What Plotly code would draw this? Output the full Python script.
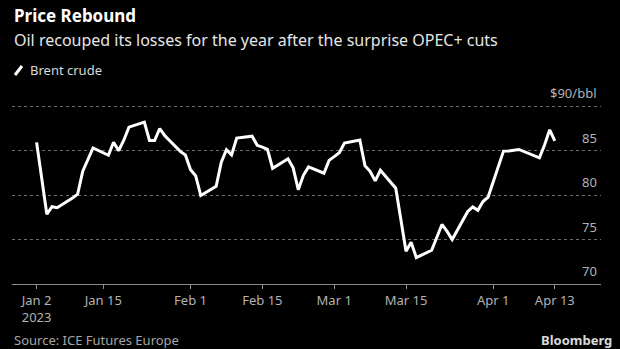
import plotly.graph_objects as go

dates = ["2023-01-02","2023-01-03","2023-01-04","2023-01-05","2023-01-06","2023-01-09","2023-01-10",
         "2023-01-11","2023-01-12","2023-01-13","2023-01-16","2023-01-17","2023-01-18","2023-01-19",
         "2023-01-20","2023-01-23","2023-01-24","2023-01-25","2023-01-26","2023-01-27","2023-01-30",
         "2023-01-31","2023-02-01","2023-02-02","2023-02-03","2023-02-06","2023-02-07","2023-02-08",
         "2023-02-09","2023-02-10","2023-02-13","2023-02-14","2023-02-15","2023-02-16","2023-02-17",
         "2023-02-20","2023-02-21","2023-02-22","2023-02-23","2023-02-24","2023-02-27","2023-02-28",
         "2023-03-01","2023-03-02","2023-03-03","2023-03-06","2023-03-07","2023-03-08","2023-03-09",
         "2023-03-10","2023-03-13","2023-03-14","2023-03-15","2023-03-16","2023-03-17","2023-03-20",
         "2023-03-21","2023-03-22","2023-03-23","2023-03-24","2023-03-27","2023-03-28","2023-03-29",
         "2023-03-30","2023-03-31","2023-04-03","2023-04-04","2023-04-05","2023-04-06","2023-04-10",
         "2023-04-11","2023-04-12","2023-04-13"]
brent = [85.91,82.10,77.84,78.69,78.57,79.65,80.10,
         82.67,84.03,85.28,84.46,85.92,84.98,86.16,
         87.63,88.19,86.13,86.12,87.47,86.66,84.90,
         84.49,82.84,82.17,79.94,80.99,83.69,85.09,
         84.50,86.39,86.61,85.58,85.38,85.14,83.00,
         84.07,83.05,80.60,82.21,83.16,82.45,83.89,
         84.31,84.75,85.83,86.18,83.29,82.66,81.59,
         82.78,80.77,77.45,73.69,74.70,72.97,73.79,
         75.32,76.69,75.91,74.99,78.12,78.65,78.28,
         79.27,79.77,84.93,84.94,84.99,85.12,84.18,
         85.61,87.33,86.09]

x_tickvals = ["2023-01-02","2023-01-15","2023-02-01","2023-02-15","2023-03-01","2023-03-15","2023-04-01","2023-04-13"]
x_ticktext = ["Jan 2<br>2023","Jan 15","Feb 1","Feb 15","Mar 1","Mar 15","Apr 1","Apr 13"]
y_tickvals = [70, 75, 80, 85, 90]
y_ticktext = ["70", "75", "80", "85", "$90/bbl"]

FONT = "Noto Sans"
L, R, T, B = 12, 19, 90, 65
W, H = 620, 349
PW, PH = W - L - R, H - T - B
Y0, PX_PER_UNIT = 70, 178 / 20
YTOP = Y0 + PH / PX_PER_UNIT

def px(x):
    return (x - L) / PW
def py(y):
    return (H - B - y) / PH

fig = go.Figure()
fig.add_trace(go.Scatter(x=dates, y=brent, mode="lines", name="Brent crude",
                         line=dict(color="white", width=3), showlegend=False))

fig.update_layout(
    width=W, height=H,
    margin=dict(l=L, r=R, t=T, b=B),
    paper_bgcolor="black", plot_bgcolor="black",
    font=dict(family=FONT, color="#b3b3b3", size=13),
    xaxis=dict(range=["2022-12-28 05:00", "2023-04-22 00:00"], tickvals=x_tickvals, ticktext=x_ticktext,
               showgrid=False, showline=True, linecolor="#8c8c8c", linewidth=1,
               ticks="outside", ticklen=4, tickcolor="#8c8c8c",
               tickfont=dict(size=13, color="#b3b3b3", family=FONT), zeroline=False, fixedrange=True),
    yaxis=dict(range=[Y0, YTOP], side="right", tickvals=y_tickvals, showticklabels=False,
               showgrid=True, gridcolor="#6e6e6e", griddash="dot",
               gridwidth=1, zeroline=False, showline=False, ticks=""),
)

annots = [
    dict(text="<b>Price Rebound</b>", x=px(13), y=py(28), xanchor="left", yanchor="bottom",
         font=dict(size=17, color="white", family=FONT)),
    dict(text="Oil recouped its losses for the year after the surprise OPEC+ cuts", x=px(13), y=py(40),
         xanchor="left", yanchor="middle", font=dict(size=16, color="#e6e6e6", family=FONT)),
    dict(text="Brent crude", x=px(29), y=py(70), xanchor="left", yanchor="middle",
         font=dict(size=13, color="#d9d9d9", family=FONT)),
    dict(text="Source: ICE Futures Europe", x=px(13), y=py(340), xanchor="left", yanchor="middle",
         font=dict(size=13, color="#a6a6a6", family=FONT)),
    dict(text="<b>Bloomberg</b>", x=px(613), y=py(340), xanchor="right", yanchor="middle",
         font=dict(size=13, color="#d9d9d9", family=FONT)),
]
for a in annots:
    a.update(xref="paper", yref="paper", showarrow=False, borderpad=0)

for v, t in zip(y_tickvals, y_ticktext):
    annots.append(dict(text=t, xref="paper", x=1, xanchor="right", xshift=-3,
                       yref="y", y=v, yanchor="middle", yshift=13, showarrow=False, borderpad=0,
                       font=dict(size=13, color="#b3b3b3", family=FONT)))
fig.update_layout(annotations=annots)

fig.add_shape(type="line", xref="paper", yref="paper", x0=px(15), y0=py(75), x1=px(22), y1=py(66),
              line=dict(color="white", width=3))

fig.write_html("out.html")
